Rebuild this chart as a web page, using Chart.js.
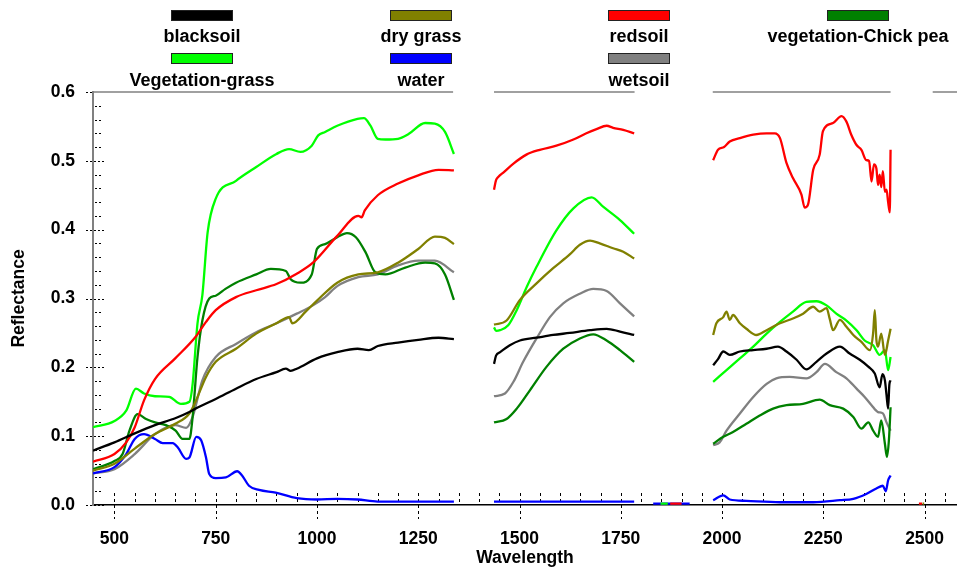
<!DOCTYPE html>
<html><head><meta charset="utf-8">
<script src="https://cdn.jsdelivr.net/npm/chart.js@4"></script>
<style>
html,body{margin:0;padding:0;background:#fff;}
#wrap{position:relative;width:957px;height:571px;overflow:hidden;background:#fff;}
canvas{position:absolute;left:0;top:0;}
.lg-box{position:absolute;width:60px;height:9px;border:1px solid #222;}
.lg-txt{position:absolute;transform:translate(-50%,-50%);font:bold 18px "Liberation Sans",Arial,sans-serif;white-space:nowrap;color:#000;line-height:1;}
</style></head><body>
<div id="wrap"><canvas id="c" width="957" height="571"></canvas><div id="legend"></div></div>
<script>
// ---- series names & colours ----
const seriesNames = ["blacksoil","dry grass","redsoil","vegetation-Chick pea","Vegetation-grass","water","wetsoil"];
const seriesColors = ["#000000","#808000","#ff0000","#008000","#00ff00","#0000ff","#808080"];

// ---- axis ticks ----
const xTickValues = [500,750,1000,1250,1500,1750,2000,2250,2500];
const yTickValues = [0,0.1,0.2,0.3,0.4,0.5,0.6];
const xMinorStep = 50;
const yMinorStep = 0.02;
const xRange = [447,2580];
const yRange = [0,0.6];
// wavelength ranges where the top frame line is drawn
const frameSegments = [[447,1336],[1437,1784],[1977,2416],[2520,2580]];

// ---- data: [wavelength (nm), reflectance]; null = gap (water absorption bands) ----
const blacksoil = [[447,0.079],[500,0.091],[550,0.104],[600,0.116],[650,0.126],[685,0.135],[700,0.140],[750,0.154],[800,0.169],[850,0.183],[900,0.193],[923,0.198],[935,0.195],[950,0.198],[1000,0.213],[1050,0.222],[1100,0.227],[1128,0.225],[1150,0.231],[1200,0.236],[1250,0.240],[1300,0.243],[1338,0.241],
 [1390,null],
 [1437,0.205],[1442,0.217],[1452,0.222],[1476,0.232],[1501,0.239],[1542,0.243],[1583,0.247],[1624,0.250],[1674,0.254],[1715,0.256],[1748,0.252],[1783,0.247],
 [1880,null],
 [1978,0.203],[1990,0.212],[2003,0.223],[2019,0.218],[2044,0.223],[2077,0.225],[2110,0.227],[2138,0.230],[2159,0.223],[2184,0.211],[2208,0.197],[2233,0.208],[2258,0.220],[2291,0.230],[2315,0.220],[2340,0.211],[2361,0.201],[2377,0.191],[2389,0.171],[2396,0.190],[2402,0.181],[2406,0.160],[2410,0.140],[2413,0.175],[2416,0.181]];

const dryGrass = [[447,0.050],[500,0.060],[550,0.082],[600,0.103],[650,0.118],[685,0.133],[700,0.150],[726,0.186],[750,0.208],[800,0.227],[850,0.249],[900,0.264],[931,0.273],[939,0.264],[972,0.281],[1000,0.297],[1050,0.323],[1102,0.335],[1150,0.338],[1200,0.352],[1250,0.372],[1291,0.390],[1316,0.388],[1338,0.379],
 [1390,null],
 [1437,0.262],[1468,0.268],[1501,0.298],[1542,0.322],[1583,0.344],[1624,0.364],[1649,0.378],[1674,0.384],[1698,0.380],[1731,0.373],[1756,0.368],[1783,0.358],
 [1880,null],
 [1978,0.247],[1986,0.264],[2003,0.273],[2011,0.281],[2019,0.269],[2027,0.276],[2044,0.264],[2060,0.256],[2085,0.247],[2110,0.254],[2143,0.264],[2175,0.271],[2200,0.278],[2225,0.288],[2241,0.281],[2258,0.286],[2266,0.270],[2274,0.254],[2291,0.269],[2307,0.259],[2324,0.247],[2344,0.237],[2365,0.225],[2373,0.250],[2377,0.283],[2381,0.240],[2385,0.230],[2393,0.249],[2402,0.218],[2410,0.239],[2416,0.256],
 [2450,null],
 [2495,0.002],[2499,0.002]];

const redsoil = [[447,0.063],[500,0.074],[529,0.091],[550,0.113],[573,0.152],[600,0.183],[650,0.213],[700,0.244],[726,0.266],[750,0.283],[800,0.302],[850,0.312],[900,0.321],[950,0.336],[990,0.352],[1050,0.391],[1102,0.420],[1110,0.418],[1118,0.428],[1150,0.450],[1200,0.467],[1250,0.479],[1300,0.487],[1338,0.486],
 [1390,null],
 [1437,0.458],[1442,0.472],[1448,0.477],[1460,0.483],[1485,0.496],[1517,0.509],[1550,0.516],[1591,0.522],[1633,0.531],[1665,0.540],[1690,0.546],[1715,0.551],[1731,0.548],[1756,0.545],[1783,0.540],
 [1820,null],
 [1872,0.002],[1900,0.002],
 [1940,null],
 [1978,0.501],[1990,0.516],[2005,0.520],[2019,0.528],[2044,0.533],[2077,0.538],[2110,0.540],[2130,0.540],[2143,0.533],[2159,0.497],[2175,0.475],[2196,0.451],[2204,0.432],[2212,0.436],[2225,0.487],[2241,0.509],[2249,0.543],[2274,0.555],[2295,0.565],[2307,0.557],[2319,0.538],[2332,0.523],[2344,0.516],[2356,0.501],[2363,0.500],[2369,0.470],[2375,0.495],[2381,0.489],[2385,0.465],[2389,0.480],[2393,0.462],[2397,0.485],[2402,0.455],[2406,0.458],[2410,0.440],[2414,0.425],[2416,0.516],
 [2450,null],
 [2486,0.002],[2494,0.002]];

const chickPea = [[447,0.052],[500,0.064],[520,0.074],[537,0.108],[557,0.132],[578,0.125],[600,0.120],[627,0.116],[651,0.108],[668,0.096],[685,0.096],[693,0.128],[705,0.215],[717,0.268],[734,0.300],[750,0.304],[774,0.314],[800,0.323],[850,0.335],[886,0.343],[923,0.340],[935,0.328],[959,0.323],[987,0.335],[1000,0.372],[1020,0.379],[1050,0.389],[1074,0.395],[1096,0.389],[1120,0.367],[1144,0.338],[1169,0.335],[1218,0.345],[1267,0.352],[1291,0.351],[1316,0.335],[1338,0.298],
 [1390,null],
 [1437,0.120],[1468,0.125],[1493,0.140],[1526,0.167],[1567,0.201],[1608,0.227],[1649,0.242],[1682,0.248],[1715,0.239],[1748,0.225],[1783,0.208],
 [1880,null],
 [1978,0.089],[2003,0.099],[2027,0.106],[2060,0.118],[2093,0.130],[2126,0.140],[2159,0.145],[2200,0.147],[2241,0.153],[2266,0.145],[2299,0.140],[2324,0.128],[2344,0.111],[2361,0.120],[2373,0.108],[2385,0.099],[2393,0.123],[2402,0.089],[2407,0.070],[2412,0.095],[2416,0.142]];

const vegGrass = [[447,0.113],[500,0.122],[529,0.137],[553,0.169],[573,0.162],[600,0.158],[635,0.157],[664,0.147],[685,0.150],[693,0.176],[705,0.264],[717,0.305],[730,0.396],[750,0.445],[800,0.471],[850,0.491],[900,0.510],[931,0.517],[959,0.513],[987,0.522],[1003,0.537],[1020,0.542],[1050,0.551],[1100,0.561],[1116,0.562],[1132,0.551],[1150,0.532],[1169,0.531],[1200,0.532],[1226,0.539],[1267,0.555],[1291,0.554],[1316,0.542],[1338,0.510],
 [1390,null],
 [1437,0.258],[1442,0.253],[1452,0.254],[1472,0.261],[1493,0.283],[1518,0.317],[1542,0.346],[1591,0.399],[1633,0.431],[1678,0.447],[1707,0.433],[1748,0.414],[1783,0.394],
 [1820,null],
 [1848,0.002],[1866,0.002],
 [1940,null],
 [1978,0.179],[2011,0.196],[2044,0.213],[2077,0.230],[2110,0.249],[2143,0.266],[2175,0.281],[2208,0.295],[2233,0.296],[2258,0.290],[2282,0.278],[2307,0.268],[2332,0.254],[2352,0.239],[2373,0.232],[2389,0.218],[2402,0.225],[2410,0.196],[2416,0.215]];

const water = [[447,0.046],[500,0.055],[529,0.074],[550,0.096],[573,0.103],[600,0.096],[619,0.090],[644,0.090],[656,0.084],[677,0.067],[685,0.069],[702,0.099],[714,0.094],[726,0.069],[734,0.045],[750,0.039],[775,0.040],[803,0.049],[815,0.043],[832,0.028],[857,0.022],[898,0.018],[950,0.010],[1000,0.008],[1050,0.009],[1100,0.008],[1150,0.005],[1250,0.005],[1338,0.005],
 [1390,null],
 [1437,0.005],[1783,0.005],
 [1810,null],
 [1830,0.002],[1920,0.002],
 [1950,null],
 [1978,0.007],[2003,0.014],[2019,0.008],[2060,0.006],[2143,0.004],[2225,0.004],[2291,0.007],[2324,0.009],[2356,0.016],[2381,0.024],[2397,0.028],[2404,0.020],[2410,0.036],[2416,0.043]];

const wetsoil = [[447,0.046],[500,0.052],[550,0.074],[600,0.103],[650,0.116],[677,0.112],[693,0.128],[717,0.181],[750,0.215],[800,0.234],[850,0.251],[900,0.264],[950,0.278],[990,0.290],[1020,0.302],[1050,0.318],[1102,0.331],[1150,0.335],[1200,0.348],[1250,0.355],[1291,0.355],[1338,0.338],
 [1390,null],
 [1437,0.158],[1464,0.162],[1485,0.179],[1509,0.208],[1542,0.242],[1575,0.273],[1608,0.293],[1649,0.307],[1682,0.314],[1715,0.311],[1748,0.293],[1783,0.274],
 [1880,null],
 [1978,0.087],[1994,0.091],[2011,0.108],[2044,0.133],[2077,0.157],[2110,0.176],[2134,0.184],[2167,0.186],[2208,0.184],[2233,0.193],[2254,0.205],[2282,0.193],[2307,0.184],[2332,0.169],[2352,0.157],[2369,0.145],[2385,0.135],[2397,0.133],[2406,0.120],[2416,0.108]];

const seriesData = [blacksoil, dryGrass, redsoil, chickPea, vegGrass, water, wetsoil];

// ---- build chart ----
const FONT = {family:'"Liberation Sans", Arial, sans-serif', size:17.5, weight:'bold'};

const axisDecor = {
  id:'axisDecor',
  beforeDatasetsDraw(chart){
    const {ctx, chartArea:a, scales:{x,y}} = chart;
    ctx.save();
    ctx.strokeStyle = '#000';
    ctx.lineWidth = 1;
    ctx.setLineDash([2,2]);
    // y ticks
    const nY = Math.round((yRange[1]-yRange[0])/yMinorStep);
    for (let i=0;i<=nY;i++){
      const v = yRange[0]+i*yMinorStep;
      const py = Math.round(y.getPixelForValue(v))+0.5;
      const major = i % 5 === 0;
      ctx.beginPath();
      if (major){ ctx.moveTo(a.left-7,py); ctx.lineTo(a.left+(i===nY?0:11),py); }
      else { ctx.moveTo(a.left+2,py); ctx.lineTo(a.left+9,py); }
      ctx.stroke();
    }
    // x ticks
    ctx.setLineDash([3,3]);
    for (let v=xTickValues[0]; v<=xRange[1]; v+=xMinorStep){
      const px = Math.round(x.getPixelForValue(v))+0.5;
      const major = xTickValues.includes(v);
      ctx.beginPath();
      ctx.moveTo(px,a.bottom-12);
      ctx.lineTo(px, major ? a.bottom+14 : a.bottom-2);
      ctx.stroke();
    }
    // broken top frame line
    ctx.setLineDash([]);
    ctx.strokeStyle = '#808080';
    ctx.lineWidth = 1.5;
    frameSegments.forEach(([s,e])=>{
      ctx.beginPath();
      ctx.moveTo(x.getPixelForValue(s), a.top);
      ctx.lineTo(x.getPixelForValue(e), a.top);
      ctx.stroke();
    });
    ctx.restore();
  }
};

const chart = new Chart(document.getElementById('c'), {
  type:'line',
  data:{
    datasets: seriesNames.map((name,i)=>({
      label:name,
      data: seriesData[i].map(([w,r])=>({x:w,y:r})),
      borderColor: seriesColors[i],
      backgroundColor: seriesColors[i],
      borderWidth:2.3,
      pointRadius:0,
      cubicInterpolationMode:'monotone',
      spanGaps:false,
      fill:false
    }))
  },
  options:{
    responsive:false,
    animation:false,
    devicePixelRatio:1,
    layout:{padding:{top:92,right:0,left:0,bottom:0}},
    plugins:{legend:{display:false}, tooltip:{enabled:false}},
    scales:{
      x:{
        type:'linear', min:xRange[0], max:xRange[1],
        afterBuildTicks: s => { s.ticks = xTickValues.map(v=>({value:v})); },
        afterFit: s => { s.height = 66; s.paddingLeft = 0; s.paddingRight = 0; },
        grid:{display:false, drawTicks:false},
        border:{display:true, color:'#000', width:1.5},
        ticks:{color:'#000', font:FONT, padding:24, maxRotation:0, autoSkip:false, callback:v=>String(v)},
        title:{display:true, text:'Wavelength', color:'#000', font:FONT, padding:{top:0,bottom:2}}
      },
      y:{
        type:'linear', min:yRange[0], max:yRange[1],
        afterBuildTicks: s => { s.ticks = yTickValues.map(v=>({value:v})); },
        afterFit: s => { s.width = 93; s.paddingTop = 0; s.paddingBottom = 0; },
        grid:{display:false, drawTicks:false},
        border:{display:true, color:'#808080', width:2},
        ticks:{color:'#000', font:FONT, padding:18, callback:v=>Number(v).toFixed(1)},
        title:{display:true, text:'Reflectance', color:'#000', font:FONT, padding:{top:8.5,bottom:0}}
      }
    }
  },
  plugins:[axisDecor]
});

// ---- legend (box above label, 4 columns x 2 rows) ----
const legendColCenters = [202,421,639,858];
const legendBoxTops = [10,53];
const legendLabelCenters = [36,80];
const lg = document.getElementById('legend');
chart.data.datasets.forEach((ds,i)=>{
  const col = i % 4, row = Math.floor(i/4);
  const box = document.createElement('div');
  box.className = 'lg-box';
  box.style.left = (legendColCenters[col]-31)+'px';
  box.style.top = legendBoxTops[row]+'px';
  box.style.background = ds.borderColor;
  lg.appendChild(box);
  const t = document.createElement('div');
  t.className = 'lg-txt';
  t.textContent = ds.label;
  t.style.left = legendColCenters[col]+'px';
  t.style.top = legendLabelCenters[row]+'px';
  lg.appendChild(t);
});
</script>
</body></html>
